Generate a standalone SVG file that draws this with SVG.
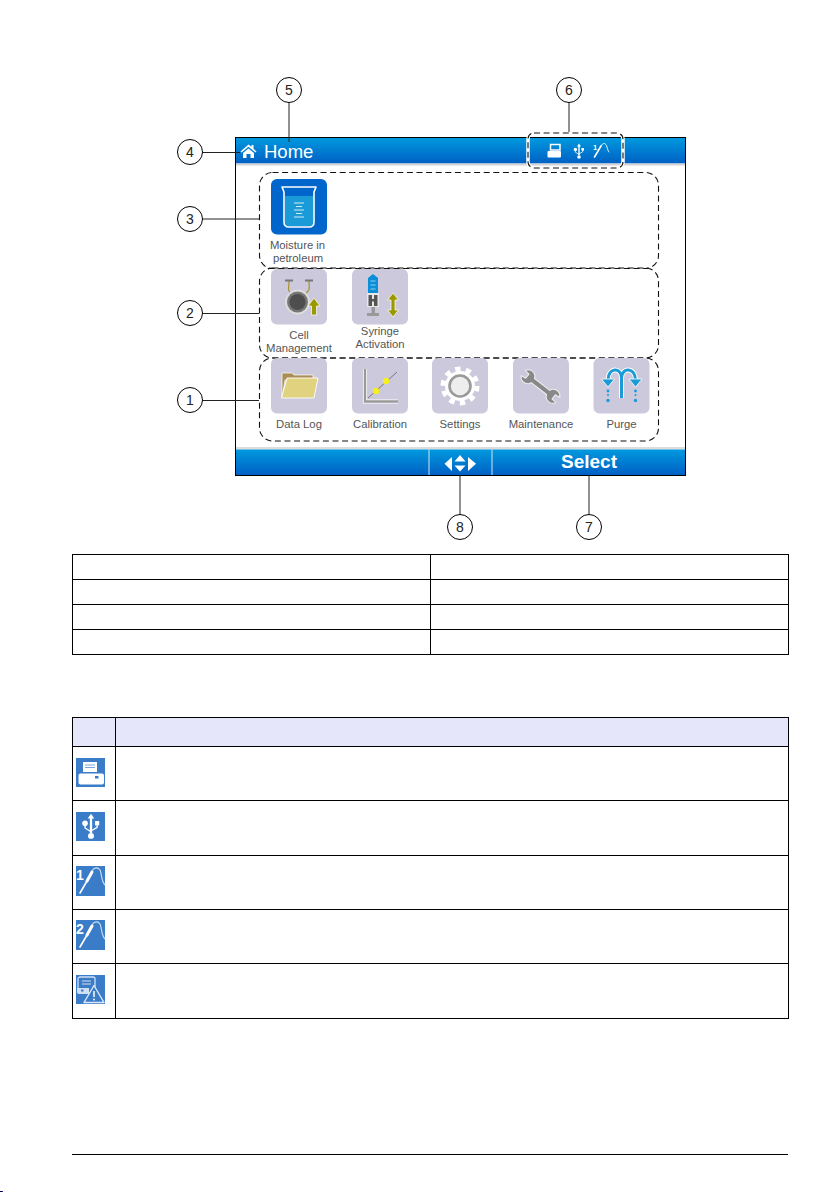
<svg xmlns="http://www.w3.org/2000/svg" width="840" height="1192" viewBox="0 0 840 1192">
<style>
text{font-family:"Liberation Sans",Arial,sans-serif}
.lbl{font-size:11.3px;fill:#555;text-anchor:middle}
.num{font-size:14px;fill:#222;text-anchor:middle}
.cc{fill:#fff;stroke:#000;stroke-width:1}
.lead{stroke:#222;stroke-width:1;fill:none}
.dash{fill:none;stroke:#111;stroke-width:1.1;stroke-dasharray:6 3.6}
.bg{fill:#ccc9dd}
.tb{fill:none;stroke:#000;stroke-width:1}
.ti{fill:#3a7cc8}
.w{fill:#fff}
.ws{fill:none;stroke:#fff;stroke-linecap:round;stroke-linejoin:round}
.ol{fill:#9a9a00;stroke:#fff;stroke-width:.7}
.drop{fill:#1a9ad6}
</style>
<defs>
<linearGradient id="bar" x1="0" y1="0" x2="0" y2="1"><stop offset="0" stop-color="#0099de"/><stop offset="1" stop-color="#0060c4"/></linearGradient>
<g id="usb">
<path d="M0 -7.5L2 -4.5H.7V4.2H-.7V-4.5H-2Z" class="w"/>
<circle cx="0" cy="6" r="1.800" class="w"/>
<circle cx="-3.600" cy="-1.600" r="1.700" class="w"/>
<rect x="2.400" y="-3" width="2.600" height="2.600" class="w"/>
<path d="M-3.600 0V1.200L0 3.500M3.700 -.4V.8L0 3" class="ws" stroke-width=".8"/>
</g>
<g id="probe">
<path d="M4 27L11 15" class="ws" stroke-width="1.600"/>
<path d="M11 15L16 6" class="ws" stroke-width="3"/>
<path d="M16 5C18 1 22 1 24 4C26 8 25 15 29 19" class="ws" stroke-width="1.100" opacity=".75"/>
</g>
</defs>
<rect width="840" height="1192" fill="#fff"/>

<g id="screen">
<rect x="235.500" y="137.500" width="450" height="338" fill="#fff"/>
<rect x="236" y="138" width="449" height="25.500" fill="url(#bar)"/>
<rect x="236" y="163.500" width="449" height="2" fill="#d4d4d4"/>
<rect x="236" y="447" width="449" height="2.500" fill="#dcdcdc"/>
<rect x="236" y="449.500" width="449" height="25.500" fill="url(#bar)"/>
<rect x="235.500" y="137.500" width="450" height="338" fill="none" stroke="#000"/>
<path d="M429 449.500V475M492 449.500V475" stroke="#cfe6f7" stroke-width="1"/>
<text x="264" y="158" font-size="18.500" fill="#fff">Home</text>
<path id="home" d="M240.500 151.500L248.500 144.500L251.500 147V145H253.500V148.800L256.500 151.500L255.500 152.500L248.500 146.700L241.500 152.500ZM243 153L248.500 148.500L254 153V158H250.500V154H246.500V158H243Z" class="w"/>
<text x="589" y="468" font-size="19px" font-weight="bold" fill="#fff" text-anchor="middle">Select</text>
<path id="nav" d="M444.500 463.800L452 457V471ZM454.500 461.500L460 455L465.500 461.500ZM454.500 465.500H465.500L460 471.500ZM468 457L476 463.800L468 471Z" class="w"/>
</g>

<g id="status-icons">
<rect x="550.500" y="144.500" width="9.500" height="5.500" fill="none" stroke="#fff" stroke-width="1.500"/>
<rect x="547.500" y="151" width="13.500" height="6.500" rx="1" class="w"/>
<use href="#usb" x="579" y="151"/>
<text x="593" y="150" font-size="7.500" font-weight="bold" fill="#fff">1</text>
<path d="M594.500 157L601 146" class="ws" stroke-width="1.600"/>
<path d="M601 146C603 142 606 143 607 147C607.500 149 608 151 609 152" class="ws" stroke-width=".9"/>
</g>

<g id="dashed-areas">
<rect x="259.500" y="172.500" width="399" height="96" rx="13" class="dash"/>
<rect x="259.500" y="268" width="399" height="90" rx="13" class="dash"/>
<rect x="259.500" y="358" width="399" height="83" rx="13" class="dash"/>
<rect x="528" y="133" width="95" height="35" rx="6" fill="none" stroke="#fff" stroke-width="3.500"/>
<rect x="528" y="133" width="95" height="35" rx="6" class="dash"/>
</g>

<g id="moisture" transform="translate(271 179)">
<rect width="56" height="55.500" rx="6" fill="#0066cc"/>
<path d="M14 17V43Q14 47 18 47H38Q42 47 42 43V17Z" fill="#1a9ad6"/>
<path d="M11 8H45L43 13V43Q43 48 38 48H18Q13 48 13 43V13Z" fill="none" stroke="#fff" stroke-width="1.600" stroke-linejoin="round"/>
<path d="M23 24H33M25 27.500H31M23 31H33M25 34.500H31M23 38H33" stroke="#e8f6fc" stroke-width=".9"/>
<text x="26.500" y="70" class="lbl">Moisture in</text>
<text x="27" y="83" class="lbl">petroleum</text>
</g>

<g id="cell" transform="translate(271 269)">
<rect width="56" height="55.500" rx="6" class="bg"/>
<path d="M18 12C18 20 16 20 20 25M38 12C38 20 40 20 34 25" fill="none" stroke="#a89030" stroke-width="1.200"/>
<path d="M14 11.500H22M34 11.500H42" stroke="#777" stroke-width="2"/>
<circle cx="26.500" cy="33" r="12.500" fill="#ddd"/>
<circle cx="26.500" cy="33" r="10.500" fill="#777"/>
<circle cx="26.500" cy="33" r="8" fill="#4e4e4e"/>
<path d="M43 29L49 37H45.500V46H40.500V37H37Z" class="ol"/>
<text x="28" y="70" class="lbl">Cell</text>
<text x="28" y="83" class="lbl">Management</text>
</g>

<g id="syringe" transform="translate(352 269)">
<rect width="56" height="55.500" rx="6" class="bg"/>
<path d="M16 9L21 5L26 9V24H16Z" fill="#0a8fd8"/>
<path d="M18.500 12H23.500M18.500 16H23.500M18.500 20H23.500" stroke="#bde" stroke-width=".8"/>
<rect x="15" y="24" width="12" height="14" fill="#e8e8e8"/>
<rect x="16.500" y="26" width="3.500" height="11" fill="#555"/><rect x="22" y="26" width="3.500" height="11" fill="#555"/>
<rect x="17" y="30" width="8" height="2.500" fill="#555"/>
<rect x="19.500" y="38" width="3.500" height="7" fill="#999"/><rect x="15" y="44" width="12" height="3" fill="#999"/>
<path d="M41 24L46.500 31H43V41H46.500L41 48L35.500 41H39V31H35.500Z" class="ol"/>
<text x="28" y="66" class="lbl">Syringe</text>
<text x="28" y="79" class="lbl">Activation</text>
</g>

<g id="datalog" transform="translate(271 358)">
<rect width="56" height="55.500" rx="6" class="bg"/>
<path d="M11 40V15H21L23 17H42V22H14Z" fill="#a98f55" stroke="#fff" stroke-width=".7"/>
<path d="M16 20H47L43 40H10.500Z" fill="#e0d27f" stroke="#fff" stroke-width=".9"/>
<text x="28" y="70" class="lbl">Data Log</text>
</g>

<g id="calibration" transform="translate(352 358)">
<rect width="56" height="55.500" rx="6" class="bg"/>
<path d="M13 11V43.500H46" fill="none" stroke="#fff" stroke-width="4"/>
<path d="M13 11V43.500H46" fill="none" stroke="#999" stroke-width="2.400"/>
<path d="M16 40L45 14" stroke="#777" stroke-width="1"/>
<circle cx="24" cy="33" r="3.200" fill="#f5ee20"/><circle cx="34" cy="23" r="3.200" fill="#f5ee20"/>
<text x="28" y="70" class="lbl">Calibration</text>
</g>

<g id="settings" transform="translate(432 358)">
<rect width="56" height="55.500" rx="6" class="bg"/>
<circle cx="28" cy="28" r="15" class="w"/>
<circle cx="28" cy="28" r="17" fill="none" stroke="#fff" stroke-width="5" stroke-dasharray="5.340 5.340"/>
<circle cx="28" cy="28" r="10.500" fill="#eeeeee" stroke="#999" stroke-width="2.600"/>
<text x="28" y="70" class="lbl">Settings</text>
</g>

<g id="maintenance" transform="translate(513 358)">
<rect width="56" height="55.500" rx="6" class="bg"/>
<path transform="translate(27.500 28.500) rotate(38) scale(.88)" d="M-11 -3L-12.500 -5.800A8 8 0 0 0 -25 -3.900L-19 -3V3L-25 3.900A8 8 0 0 0 -12.500 5.800L-11 3H11L12.500 5.800A8 8 0 0 0 25 3.900L19 3V-3L25 -3.900A8 8 0 0 0 12.500 -5.800L11 -3Z" fill="#888" stroke="#eee" stroke-width="1.200" stroke-linejoin="round"/>
<text x="28" y="70" class="lbl">Maintenance</text>
</g>

<g id="purge" transform="translate(593.500 358)">
<rect width="56" height="55.500" rx="6" class="bg"/>
<g fill="none" stroke="#fff" stroke-width="5"><path d="M28 40V20M14.500 22C14.500 9 28 9 28 20C28 9 42 9 42 22"/></g>
<g fill="none" stroke="#1a9ad6" stroke-width="3"><path d="M28 40V20M14.500 22C14.500 9 28 9 28 20C28 9 42 9 42 22"/></g>
<path d="M8 21H21L14.500 29ZM35.500 21H48.500L42 29Z" fill="#1a9ad6" stroke="#fff" stroke-width=".8"/>
<circle cx="14.500" cy="33" r="1.400" class="drop"/><circle cx="14.500" cy="37" r="1" class="drop"/><circle cx="14.500" cy="42.500" r="1.700" class="drop"/>
<circle cx="42" cy="33" r="1.400" class="drop"/><circle cx="42" cy="37" r="1" class="drop"/><circle cx="42" cy="42.500" r="1.700" class="drop"/>
<text x="28" y="70" class="lbl">Purge</text>
</g>

<g id="connectors">
<path class="lead" d="M289 102V142"/>
<path class="lead" d="M569 102V132"/>
<path class="lead" d="M202 152.500H240"/>
<path class="lead" d="M202 219H259"/>
<path class="lead" d="M202 313.500H259"/>
<path class="lead" d="M202 400.500H259"/>
<path class="lead" d="M460 475V515"/>
<path class="lead" d="M589 475V515"/>
</g>

<g id="callout-1"><circle cx="190" cy="400" r="12.500" class="cc"/><text x="190" y="405" class="num">1</text></g>
<g id="callout-2"><circle cx="190" cy="313" r="12.500" class="cc"/><text x="190" y="318" class="num">2</text></g>
<g id="callout-3"><circle cx="190" cy="219" r="12.500" class="cc"/><text x="190" y="224" class="num">3</text></g>
<g id="callout-4"><circle cx="190" cy="152" r="12.500" class="cc"/><text x="190" y="157" class="num">4</text></g>
<g id="callout-5"><circle cx="289" cy="90" r="12.500" class="cc"/><text x="289" y="95" class="num">5</text></g>
<g id="callout-6"><circle cx="569" cy="90" r="12.500" class="cc"/><text x="569" y="95" class="num">6</text></g>
<g id="callout-7"><circle cx="589" cy="527" r="12.500" class="cc"/><text x="589" y="532" class="num">7</text></g>
<g id="callout-8"><circle cx="460" cy="527" r="12.500" class="cc"/><text x="460" y="532" class="num">8</text></g>

<g id="table-legend">
<rect x="72.500" y="554.500" width="716" height="100" class="tb"/>
<path class="tb" d="M72.500 579.500H788.500M72.500 604.500H788.500M72.500 629.500H788.500M430.500 554.500V654.500"/>
</g>

<g id="table-icons">
<rect x="72.500" y="717.500" width="716" height="29" fill="#e6e6fb"/>
<rect x="72.500" y="717.500" width="716" height="301" class="tb"/>
<path class="tb" d="M72.500 746.500H788.500M72.500 800.500H788.500M72.500 855.500H788.500M72.500 909.500H788.500M72.500 963.500H788.500M115.500 717.500V1018.500"/>
</g>

<g id="icon-printer" transform="translate(76 758)">
<rect width="29" height="29" class="ti"/>
<rect x="7" y="4" width="14" height="10" class="w"/>
<path d="M9 7H19M9 9.500H19" stroke="#7ba6dc" stroke-width="1.200"/>
<rect x="2.500" y="15.500" width="25.500" height="11" rx="2" class="w"/>
<rect x="19" y="18" width="3.500" height="2.500" fill="#3a7cc8"/>
</g>
<g id="icon-usb" transform="translate(76 812)">
<rect width="29" height="29" class="ti"/>
<g transform="translate(15 14) scale(1.650)"><use href="#usb"/></g>
</g>
<g id="icon-probe1" transform="translate(76 866)">
<rect width="29" height="30" class="ti"/>
<text x="0" y="14" font-size="14" font-weight="bold" fill="#fff">1</text>
<use href="#probe"/>
</g>
<g id="icon-probe2" transform="translate(76 920)">
<rect width="29" height="30" class="ti"/>
<text x="0" y="14" font-size="14" font-weight="bold" fill="#fff">2</text>
<use href="#probe"/>
</g>
<g id="icon-warning" transform="translate(76 975)">
<rect width="29" height="29" class="ti"/>
<rect x="2" y="2" width="17" height="16" rx="2" fill="none" stroke="#cfe0f5" stroke-width="1.300"/>
<path d="M6 6H15M6 9H15" stroke="#cfe0f5" stroke-width="1.200"/>
<path d="M1 13H13V19H4Q1 19 1 17Z" fill="#cfe0f5"/>
<rect x="5" y="14.500" width="2.500" height="2" fill="#3a7cc8"/>
<path d="M18 10.500L28 27.500H8Z" fill="#3a7cc8" stroke="#dbe8f8" stroke-width="1.400" stroke-linejoin="round"/>
<path d="M18 16V22" stroke="#fff" stroke-width="1.500"/><circle cx="18" cy="24.500" r=".9" class="w"/>
</g>

<g id="page-footer">
<rect x="72" y="1154" width="716" height="1" fill="#000"/>
<rect x="0" y="1191" width="2" height="1" fill="#000"/><rect x="2" y="1191" width="1" height="1" fill="#1a1ad0"/>
</g>
</svg>
